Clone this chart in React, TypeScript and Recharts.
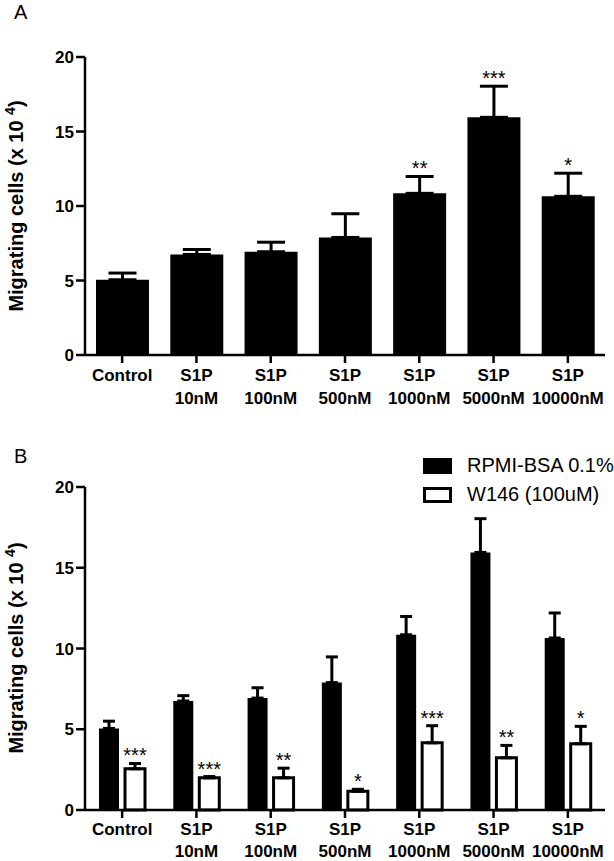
import React from "react";
import { BarChart, Bar, XAxis, YAxis, ErrorBar, LabelList, Legend } from "recharts";

// categories (x axis) — second line after \n
const categories = ["Control", "S1P\n10nM", "S1P\n100nM", "S1P\n500nM", "S1P\n1000nM", "S1P\n5000nM", "S1P\n10000nM"];
const seriesNames = ["RPMI-BSA 0.1%", "W146 (100uM)"];

// RPMI-BSA 0.1% (mean, SEM, significance)
const rpmiMean = [5.05, 6.75, 6.93, 7.89, 10.85, 15.95, 10.65];
const rpmiSem = [0.45, 0.33, 0.64, 1.59, 1.13, 2.09, 1.55];
const rpmiSig = ["", "", "", "", "**", "***", "*"];

// W146 (100uM)
const w146Mean = [2.55, 1.99, 1.99, 1.16, 4.16, 3.23, 4.1];
const w146Sem = [0.33, 0.08, 0.6, 0.12, 1.06, 0.77, 1.08];
const w146Sig = ["***", "***", "**", "*", "***", "**", "*"];

const yTicks = [0, 5, 10, 15, 20];

const topData = categories.map((name, i) => ({
  name, rpmi: rpmiMean[i], rpmiErr: [0, rpmiSem[i]], rpmiSig: rpmiSig[i],
}));
const bottomData = categories.map((name, i) => ({
  name, rpmi: rpmiMean[i], rpmiErr: [0, rpmiSem[i]],
  w146: w146Mean[i], w146Err: [0, w146Sem[i]], w146Sig: w146Sig[i],
}));

const FONT = '"Liberation Sans", Arial, sans-serif';
const AXIS = { stroke: "#000", strokeWidth: 2.5 };

// two-line bold category label
const xTick = (first: number, gap: number) => ({ x, y, payload }: any) => {
  const lines = String(payload.value).split("\n");
  return (
    <g transform={`translate(${x},${y})`}>
      {lines.map((l, i) => (
        <text key={i} x={0} y={first + i * gap} textAnchor="middle" fontFamily={FONT} fontSize={17} fontWeight="bold" fill="#000">{l}</text>
      ))}
    </g>
  );
};

// star labels above the error bar cap, using the bar's own pixel scale
const starLabel = (means: number[], sems: number[]) => (p: any) => {
  if (!p.value) return null;
  const vb = p.viewBox && p.viewBox.width != null ? p.viewBox : p;
  const { x, y, width, height } = vb;
  const i = p.index;
  const pxPerUnit = height / means[i];
  const errTop = y - sems[i] * pxPerUnit;
  return (
    <text x={x + width / 2} y={errTop - 1} textAnchor="middle" fontFamily={FONT} fontSize={20} fill="#000">{p.value}</text>
  );
};

const yLabel = (cy: number) => () => (
  <text transform={`translate(23,${cy}) rotate(-90)`} textAnchor="middle" fontFamily={FONT} fontSize={20} fontWeight="bold" fill="#000">
    Migrating cells (x 10 <tspan fontSize={14} dy={-8}>4</tspan><tspan dy={8}>)</tspan>
  </text>
);

function LegendBox(props: any) {
  const items = props.payload || [];
  return (
    <div style={{ fontFamily: FONT, fontSize: 20, color: "#000" }}>
      {items.map((e: any, i: number) => (
        <div key={i} style={{ display: "flex", alignItems: "center", height: 29 }}>
          <span style={{
            display: "inline-block", boxSizing: "border-box", width: 29, height: 16, marginRight: 15,
            background: e.value === seriesNames[0] ? "#000" : "#fff", border: "3px solid #000",
          }} />
          <span>{e.value}</span>
        </div>
      ))}
    </div>
  );
}

const TopTick = xTick(16, 23);
const BottomTick = xTick(15, 22);

export default function App() {
  return (
    <div style={{ position: "absolute", left: 0, top: 0, width: 614, height: 861, background: "#fff" }}>
      <div style={{ position: "absolute", left: 0, top: 0 }}>
        <BarChart width={614} height={420} data={topData} margin={{ top: 57, right: 9, left: 0, bottom: 0 }}>
          <XAxis dataKey="name" height={65} interval={0} tick={<TopTick />} tickSize={8} tickMargin={2} axisLine={AXIS} tickLine={AXIS} />
          <YAxis width={85} domain={[0, 20]} ticks={yTicks} tickSize={9} tickMargin={2} axisLine={AXIS} tickLine={AXIS}
            tick={{ fontFamily: FONT, fontSize: 17, fontWeight: "bold", fill: "#000" }} label={yLabel(206)} />
          <Bar dataKey="rpmi" name={seriesNames[0]} fill="#000" barSize={53} isAnimationActive={false}>
            <ErrorBar dataKey="rpmiErr" width={14} stroke="#000" strokeWidth={3} isAnimationActive={false} />
            <LabelList dataKey="rpmiSig" content={starLabel(rpmiMean, rpmiSem)} />
          </Bar>
        </BarChart>
      </div>
      <div style={{ position: "absolute", left: 0, top: 430 }}>
        <BarChart width={614} height={431} data={bottomData} margin={{ top: 57, right: 9, left: 0, bottom: 0 }} barGap={6}>
          <XAxis dataKey="name" height={51} interval={0} tick={<BottomTick />} tickSize={8} tickMargin={2} axisLine={AXIS} tickLine={AXIS} />
          <YAxis width={85} domain={[0, 20]} ticks={yTicks} tickSize={9} tickMargin={2} axisLine={AXIS} tickLine={AXIS}
            tick={{ fontFamily: FONT, fontSize: 17, fontWeight: "bold", fill: "#000" }} label={yLabel(218)} />
          <Legend layout="vertical" align="center" verticalAlign="middle" content={<LegendBox />}
            wrapperStyle={{ left: 423, top: 21, width: 191, height: 60 }} />
          <Bar dataKey="rpmi" name={seriesNames[0]} fill="#000" barSize={20} isAnimationActive={false}>
            <ErrorBar dataKey="rpmiErr" width={6} stroke="#000" strokeWidth={3} isAnimationActive={false} />
          </Bar>
          <Bar dataKey="w146" name={seriesNames[1]} fill="#fff" stroke="#000" strokeWidth={3} barSize={20} isAnimationActive={false}>
            <ErrorBar dataKey="w146Err" width={6} stroke="#000" strokeWidth={3} isAnimationActive={false} />
            <LabelList dataKey="w146Sig" content={starLabel(w146Mean, w146Sem)} />
          </Bar>
        </BarChart>
      </div>
      <svg width={614} height={861} style={{ position: "absolute", left: 0, top: 0, pointerEvents: "none" }}>
        <text x={14} y={19} fontFamily={FONT} fontSize={20} fill="#000">A</text>
        <text x={14} y={463} fontFamily={FONT} fontSize={20} fill="#000">B</text>
      </svg>
    </div>
  );
}
